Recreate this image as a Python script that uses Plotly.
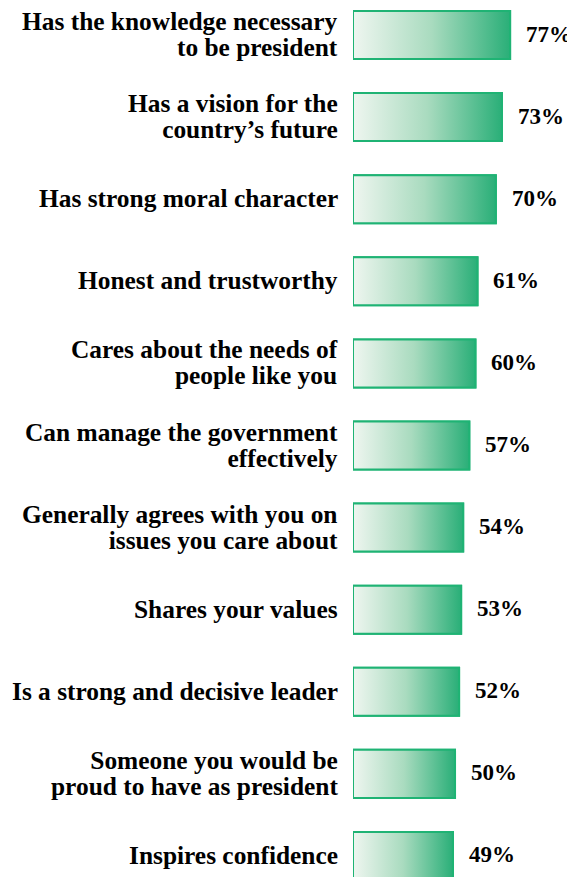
import plotly.graph_objects as go

labels = [
    ["Has the knowledge necessary", "to be president"],
    ["Has a vision for the", "country’s future"],
    ["Has strong moral character"],
    ["Honest and trustworthy"],
    ["Cares about the needs of", "people like you"],
    ["Can manage the government", "effectively"],
    ["Generally agrees with you on", "issues you care about"],
    ["Shares your values"],
    ["Is a strong and decisive leader"],
    ["Someone you would be", "proud to have as president"],
    ["Inspires confidence"],
]
values = [77, 73, 70, 61, 60, 57, 54, 53, 52, 50, 49]
value_text = [f"{v}%" for v in values]

GREEN = "#1fb374"
FAMILY = "Liberation Serif, Times New Roman, serif"
# outer size sets the (tight) line spacing: 1.3 * 19.7 ~ 25.6px; glyphs drawn at 25.4px
LFONT = dict(family=FAMILY, size=19.7, color="black", weight="bold")
VFONT = dict(family=FAMILY, size=23, color="black", weight="bold")
BAR_W = 0.585
idx = list(range(len(values)))

fig = go.Figure()
fig.add_trace(go.Bar(
    x=values, y=idx, orientation="h", width=BAR_W,
    marker=dict(color="#8fd0ae", line=dict(color=GREEN, width=2)),
    hoverinfo="skip", showlegend=False,
))
# gradient overlay, one per bar so each ends in full green
h = BAR_W / 2
for i, v in zip(idx, values):
    fig.add_trace(go.Scatter(
        x=[0, v, v, 0, 0], y=[i - h, i - h, i + h, i + h, i - h],
        mode="lines", fill="toself",
        fillgradient=dict(type="horizontal",
                          colorscale=[[0, "#eff6f0"], [0.5, "#a9dbbf"], [1, "#2aaf78"]]),
        line=dict(color=GREEN, width=2),
        hoverinfo="skip", showlegend=False,
    ))

for i, lines in zip(idx, labels):
    txt = "<br>".join(f'<span style="font-size:25.4px">{ln}</span>' for ln in lines)
    fig.add_annotation(x=0, y=i, text=txt, xanchor="right", yanchor="middle", align="right",
                       xshift=-13, yshift=1, showarrow=False, font=LFONT)

for i, v, t in zip(idx, values, value_text):
    fig.add_annotation(x=v, y=i, text=t, xanchor="left", yanchor="middle",
                       xshift=14, yshift=1, showarrow=False, font=VFONT)

fig.update_layout(
    width=567, height=869,
    margin=dict(l=345, r=0, t=0, b=0),
    paper_bgcolor="white", plot_bgcolor="white",
    xaxis=dict(range=[0, 108.8], visible=False, fixedrange=True),
    yaxis=dict(range=[10.256, -0.329], visible=False, fixedrange=True),
    bargap=0.4,
)
fig.write_html("out.html")
